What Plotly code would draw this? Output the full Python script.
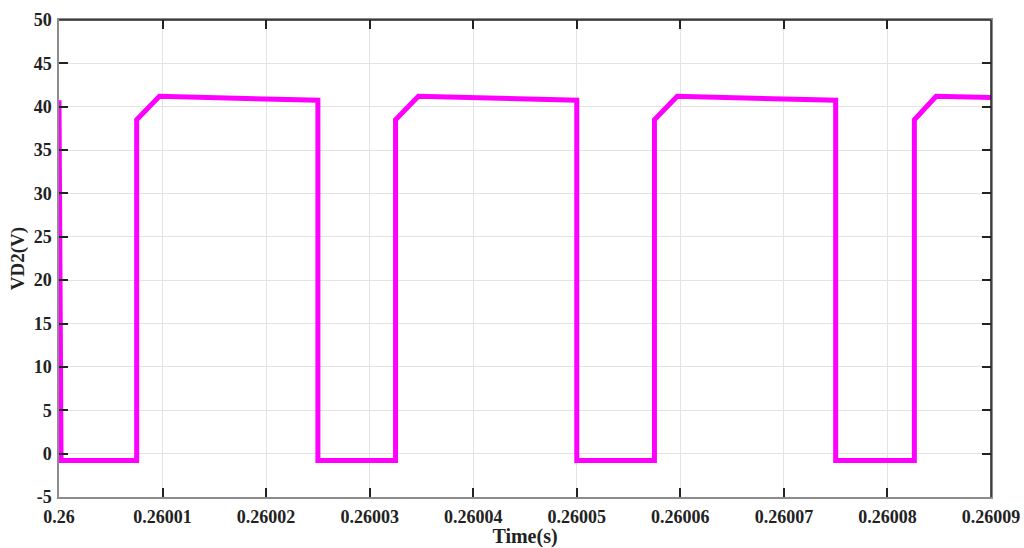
import plotly.graph_objects as go

# Diode voltage waveform: vertices of the piecewise-linear trace
time_s = [
    0.26, 0.2600002, 0.2600075, 0.2600075, 0.2600097,
    0.260025, 0.260025, 0.2600325, 0.2600325, 0.2600347,
    0.26005, 0.26005, 0.2600575, 0.2600575, 0.2600597,
    0.260075, 0.260075, 0.2600826, 0.2600826, 0.2600847,
    0.26009,
]
vd2_v = [
    40.75, -0.8, -0.8, 38.5, 41.2,
    40.75, -0.8, -0.8, 38.5, 41.2,
    40.75, -0.8, -0.8, 38.5, 41.2,
    40.75, -0.8, -0.8, 38.5, 41.2,
    41.05,
]

x_tick_vals = [0.26, 0.26001, 0.26002, 0.26003, 0.26004,
               0.26005, 0.26006, 0.26007, 0.26008, 0.26009]
x_tick_text = ["0.26", "0.26001", "0.26002", "0.26003", "0.26004",
               "0.26005", "0.26006", "0.26007", "0.26008", "0.26009"]
y_tick_vals = [-5, 0, 5, 10, 15, 20, 25, 30, 35, 40, 45, 50]
y_tick_text = ["-5", "0", "5", "10", "15", "20", "25", "30", "35", "40", "45", "50"]

font_family = "Liberation Serif"
text_color = "#222222"

fig = go.Figure()
fig.add_trace(go.Scatter(
    x=time_s, y=vd2_v, mode="lines",
    line=dict(color="#FF00FF", width=5, shape="linear"),
    showlegend=False, hoverinfo="x+y",
))

fig.update_layout(
    width=1024, height=548,
    margin=dict(l=58.5, r=32.5, t=20, b=51),
    paper_bgcolor="white", plot_bgcolor="white",
    font=dict(family=font_family, color=text_color),
)

fig.update_xaxes(
    range=[0.26, 0.26009], automargin=False,
    tickvals=x_tick_vals, ticktext=x_tick_text,
    ticks="inside", ticklen=9, tickwidth=1.5, tickcolor=text_color,
    ticklabelstandoff=3,
    showline=True, linecolor="#8c8c8c", linewidth=1.5, mirror="ticks",
    showgrid=True, gridcolor="#e3e3e3", gridwidth=1,
    zeroline=False,
    tickfont=dict(family=font_family, size=18, weight="bold", color=text_color),
    title=dict(text="Time(s)", standoff=0,
               font=dict(family=font_family, size=20, weight="bold", color=text_color)),
)
fig.update_yaxes(
    range=[-5, 50], automargin=False,
    tickvals=y_tick_vals, ticktext=y_tick_text,
    ticks="inside", ticklen=9, tickwidth=1.5, tickcolor=text_color,
    ticklabelstandoff=2,
    showline=True, linecolor="#8c8c8c", linewidth=1.5, mirror="ticks",
    showgrid=True, gridcolor="#e3e3e3", gridwidth=1,
    zeroline=False,
    tickfont=dict(family=font_family, size=18, weight="bold", color=text_color),
    title=dict(text="VD2(V)", standoff=4,
               font=dict(family=font_family, size=19, weight="bold", color=text_color)),
)

# Darker frame edges on the top and right sides
fig.add_shape(type="line", xref="paper", yref="paper", x0=0, x1=1, y0=1, y1=1,
              line=dict(color=text_color, width=1.5))
fig.add_shape(type="line", xref="paper", yref="paper", x0=1, x1=1, y0=0, y1=1,
              line=dict(color=text_color, width=1.5))

fig.write_html("out.html")
